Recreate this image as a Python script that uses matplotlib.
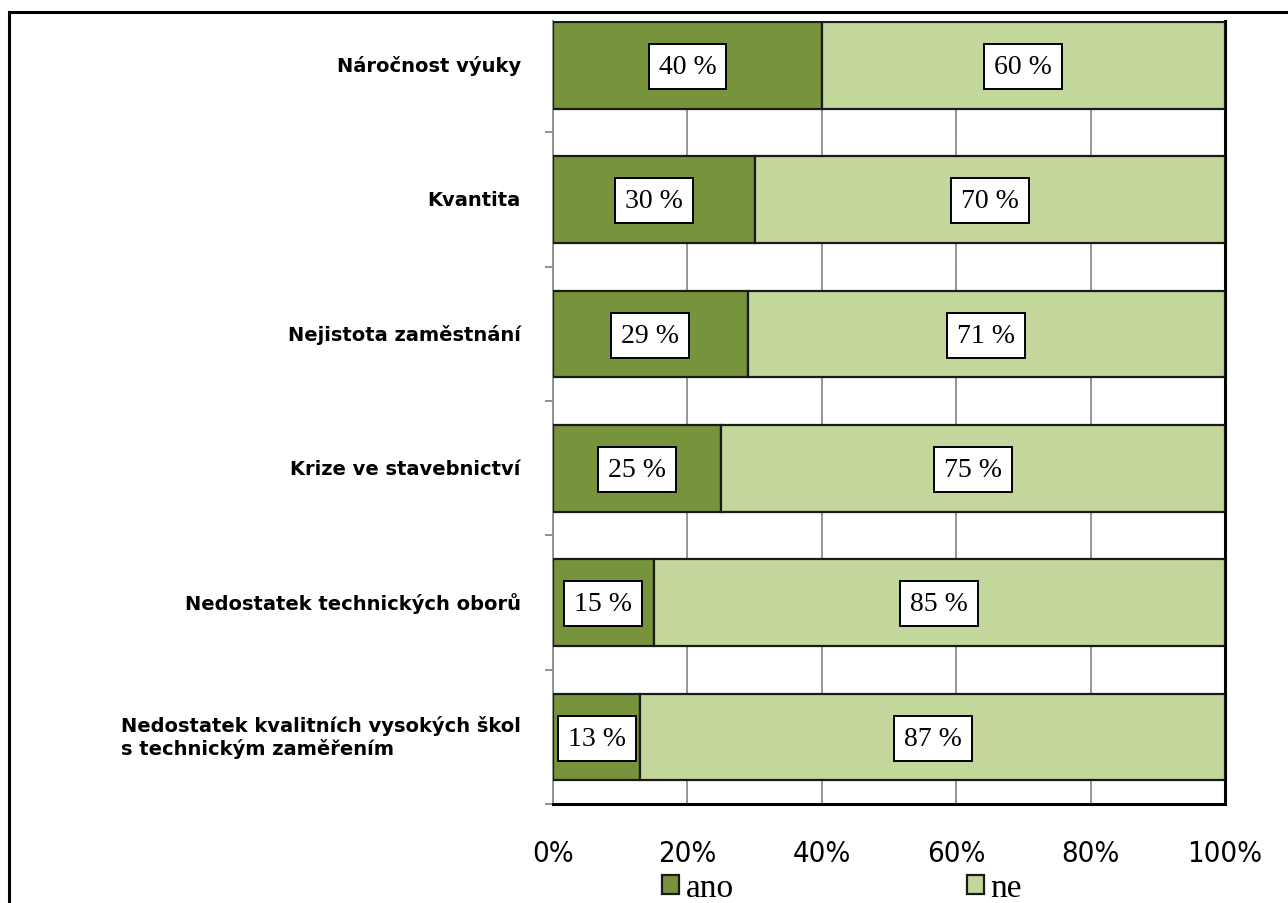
import matplotlib
matplotlib.use("Agg")
import matplotlib.pyplot as plt
from matplotlib.patches import Rectangle
import numpy as np

categories = [
    "Náročnost výuky",
    "Kvantita",
    "Nejistota zaměstnání",
    "Krize ve stavebnictví",
    "Nedostatek technických oborů",
    "Nedostatek kvalitních vysokých škol\ns technickým zaměřením",
]
ano = [40, 30, 29, 25, 15, 13]
ne = [60, 70, 71, 75, 85, 87]
series_names = ["ano", "ne"]
xticks = [0, 20, 40, 60, 80, 100]
xtick_labels = ["0%", "20%", "40%", "60%", "80%", "100%"]

c_ano = "#77933C"
c_ne = "#C3D69B"

fig = plt.figure(figsize=(12.88, 9.04), dpi=100)
# outer frame
fig.patches.append(Rectangle((9/1288, -0.2), 2.0, 0.2 + 891/904, transform=fig.transFigure,
                             fill=False, edgecolor="black", linewidth=2.2, zorder=0))

ax = fig.add_axes([553/1288, 99/904, 672/1288, 783/904])
y = np.arange(len(categories))
h = 0.645
b1 = ax.barh(y, ano, height=h, color=c_ano, edgecolor="#1a1a1a", linewidth=1.6, zorder=3, label=series_names[0])
b2 = ax.barh(y, ne, left=ano, height=h, color=c_ne, edgecolor="#1a1a1a", linewidth=1.6, zorder=3, label=series_names[1])

ax.set_xlim(0, 100)
ax.set_ylim(5.5, -0.33)

for bars, vals, lefts in ((b1, ano, [0]*6), (b2, ne, ano)):
    for yi, v, l in zip(y, vals, lefts):
        ax.text(l + v/2, yi + 0.01, f"{v} %", ha="center", va="center", fontsize=20,
                family="Liberation Serif", zorder=5,
                bbox=dict(boxstyle="square,pad=0.36", facecolor="white", edgecolor="black", linewidth=1.4))

ax.set_xticks(xticks)
ax.set_xticklabels(xtick_labels, family="DejaVu Sans", fontstretch="condensed", fontsize=21)
ax.tick_params(axis="x", length=0, pad=25)
ax.set_yticks(np.arange(0.5, 6, 1))
ax.set_yticklabels([])
ax.tick_params(axis="y", which="major", length=6, color="#888888", width=1.3, direction="out")
ax.grid(axis="x", color="#8c8c8c", linewidth=1.3, zorder=0)
ax.set_axisbelow(True)

ax.spines["top"].set_visible(False)
ax.spines["left"].set_color("#8c8c8c")
ax.spines["left"].set_linewidth(1.3)
ax.spines["bottom"].set_color("black")
ax.spines["bottom"].set_linewidth(2.2)
ax.spines["right"].set_color("black")
ax.spines["right"].set_linewidth(2.2)

for yi, cat in zip(y, categories):
    ax.text(-4.8, yi, cat, ha="right", va="center", multialignment="left",
            fontsize=14, fontweight="bold", family="DejaVu Sans", transform=ax.transData)

ax.legend(handles=[b1, b2], labels=series_names, loc="center", bbox_to_anchor=(842/1288, 15/904),
          bbox_transform=fig.transFigure, ncol=2, frameon=False, handlelength=0.5, handleheight=0.5,
          handletextpad=0.2, columnspacing=7.0, prop=dict(family="Liberation Serif", size=24))

fig.savefig("out.png", dpi=100)
